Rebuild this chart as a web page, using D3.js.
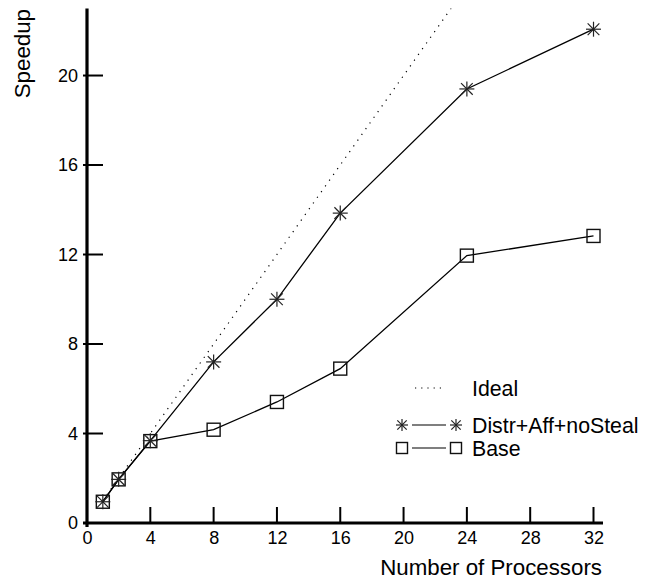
<!DOCTYPE html>
<html>
<head>
<meta charset="utf-8">
<script src="https://cdn.jsdelivr.net/npm/d3@7"></script>
<style>
  html, body { margin: 0; padding: 0; background: #fff; }
  svg { display: block; font-family: "Liberation Sans", Arial, sans-serif; }
  .tick text { font-size: 18px; fill: #000; }
</style>
</head>
<body>
<svg id="chart" width="647" height="582"></svg>
<script>
// ---- data ----
const processors = [1, 2, 4, 8, 12, 16, 24, 32];
const idealSpeedup = [1, 2, 4, 8, 12, 16, 24, 32];
const distrSpeedup = [0.95, 1.95, 3.68, 7.2, 10.0, 13.85, 19.4, 22.07];
const baseSpeedup  = [0.95, 1.95, 3.66, 4.17, 5.41, 6.9, 11.95, 12.83];
const xTicks = [0, 4, 8, 12, 16, 20, 24, 28, 32];
const yTicks = [0, 4, 8, 12, 16, 20];
const legendLabels = ["Ideal", "Distr+Aff+noSteal", "Base"];
const xTitle = "Number of Processors";
const yTitle = "Speedup";

// ---- layout ----
const svg = d3.select("#chart");
const x = d3.scaleLinear().domain([0, 32.6]).range([87, 603]);
const y = d3.scaleLinear().domain([0, 23]).range([523, 8.4]);

svg.append("defs").append("clipPath").attr("id", "plotclip")
  .append("rect").attr("x", x(0)).attr("y", y(23))
  .attr("width", x(32.6) - x(0)).attr("height", y(0) - y(23));

// axes
const xAxis = d3.axisBottom(x).tickValues(xTicks).tickSize(0).tickPadding(8).tickFormat(d3.format("d"));
const yAxis = d3.axisLeft(y).tickValues(yTicks).tickSize(0).tickPadding(9).tickFormat(d3.format("d"));

const gx = svg.append("g").attr("transform", `translate(0,${y(0)})`).call(xAxis)
  .attr("font-size", 18).attr("font-family", "Liberation Sans, Arial, sans-serif");
gx.select(".domain").remove();
gx.selectAll("text").attr("fill", "#000");

const gy = svg.append("g").attr("transform", `translate(${x(0)},0)`).call(yAxis)
  .attr("font-size", 18).attr("font-family", "Liberation Sans, Arial, sans-serif");
gy.select(".domain").remove();
gy.selectAll("text").attr("fill", "#000");

// inward ticks
svg.append("g").selectAll("line").data(xTicks.filter(d => d > 0)).join("line")
  .attr("x1", d => x(d)).attr("x2", d => x(d))
  .attr("y1", y(0)).attr("y2", y(0) - 16)
  .attr("stroke", "#000").attr("stroke-width", 2);
svg.append("g").selectAll("line").data(yTicks.filter(d => d > 0)).join("line")
  .attr("y1", d => y(d)).attr("y2", d => y(d))
  .attr("x1", x(0) - 4).attr("x2", x(0) + 16)
  .attr("stroke", "#000").attr("stroke-width", 2);

// axis lines
svg.append("line").attr("x1", x(0) - 4).attr("x2", x(32.6))
  .attr("y1", y(0)).attr("y2", y(0)).attr("stroke", "#000").attr("stroke-width", 3.2);
svg.append("line").attr("x1", x(0)).attr("x2", x(0))
  .attr("y1", y(23)).attr("y2", y(0) + 4).attr("stroke", "#000").attr("stroke-width", 3.2);

// titles
svg.append("text").attr("x", 602).attr("y", 575).attr("text-anchor", "end")
  .attr("font-size", 22.3).attr("fill", "#000").text(xTitle);
svg.append("text").attr("transform", "translate(30,9) rotate(-90)")
  .attr("text-anchor", "end").attr("font-size", 22.3).attr("fill", "#000").text(yTitle);

// lines
const line = d3.line().x(d => x(d[0])).y(d => y(d[1]));
const plot = svg.append("g").attr("clip-path", "url(#plotclip)");

plot.append("path").datum(processors.map((p, i) => [p, idealSpeedup[i]]))
  .attr("d", line).attr("fill", "none").attr("stroke", "#000")
  .attr("stroke-width", 1.2).attr("stroke-dasharray", "1.2,5.8");

const distrPts = processors.map((p, i) => [p, distrSpeedup[i]]);
const basePts = processors.map((p, i) => [p, baseSpeedup[i]]);

svg.append("path").datum(distrPts).attr("d", line).attr("fill", "none")
  .attr("stroke", "#000").attr("stroke-width", 1.3);
svg.append("path").datum(basePts).attr("d", line).attr("fill", "none")
  .attr("stroke", "#000").attr("stroke-width", 1.3);

// markers
function drawStar(g, cx, cy, r) {
  const s = g.append("g").attr("transform", `translate(${cx},${cy})`);
  const d = r * 0.78;
  const segs = [[-r, 0, r, 0], [0, -r, 0, r], [-d, -d, d, d], [-d, d, d, -d]];
  segs.forEach(sg => s.append("line").attr("x1", sg[0]).attr("y1", sg[1])
    .attr("x2", sg[2]).attr("y2", sg[3]).attr("stroke", "#222").attr("stroke-width", 1.2));
}
function drawSquare(g, cx, cy, h) {
  g.append("rect").attr("x", cx - h).attr("y", cy - h).attr("width", 2 * h).attr("height", 2 * h)
    .attr("fill", "none").attr("stroke", "#111").attr("stroke-width", 1.4);
}
const mk = svg.append("g");
basePts.forEach(p => drawSquare(mk, x(p[0]), y(p[1]), 6.5));
distrPts.forEach(p => drawStar(mk, x(p[0]), y(p[1]), 7.5));

// legend
const lg = svg.append("g");
const rows = [388, 425, 448];
lg.append("line").attr("x1", 415).attr("x2", 446).attr("y1", rows[0]).attr("y2", rows[0])
  .attr("stroke", "#000").attr("stroke-width", 1.1).attr("stroke-dasharray", "1.2,5");
lg.append("line").attr("x1", 412).attr("x2", 446).attr("y1", rows[1]).attr("y2", rows[1])
  .attr("stroke", "#000").attr("stroke-width", 1.2);
drawStar(lg, 402, rows[1], 6);
drawStar(lg, 456, rows[1], 6);
lg.append("line").attr("x1", 412).attr("x2", 446).attr("y1", rows[2]).attr("y2", rows[2])
  .attr("stroke", "#000").attr("stroke-width", 1.2);
drawSquare(lg, 402, rows[2], 5.5);
drawSquare(lg, 456, rows[2], 5.5);
legendLabels.forEach((t, i) => {
  lg.append("text").attr("x", 472).attr("y", rows[i] + 7.5).attr("font-size", 21.3)
    .attr("fill", "#000").text(t);
});
</script>
</body>
</html>
